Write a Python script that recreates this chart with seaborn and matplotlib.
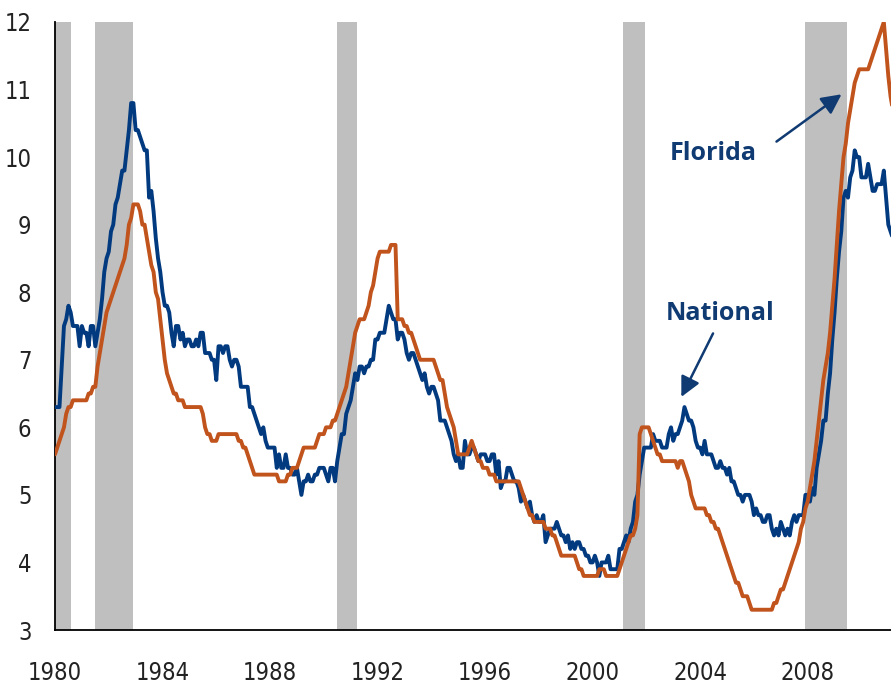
import numpy as np
import pandas as pd
import matplotlib
matplotlib.use("Agg")
import matplotlib.pyplot as plt
import seaborn as sns

# monthly unemployment rate (%), Jan 1980 - Mar 2011
national_by_year = {
    1980: [6.3, 6.3, 6.3, 6.9, 7.5, 7.6, 7.8, 7.7, 7.5, 7.5, 7.5, 7.2],
    1981: [7.5, 7.4, 7.4, 7.2, 7.5, 7.5, 7.2, 7.4, 7.6, 7.9, 8.3, 8.5],
    1982: [8.6, 8.9, 9.0, 9.3, 9.4, 9.6, 9.8, 9.8, 10.1, 10.4, 10.8, 10.8],
    1983: [10.4, 10.4, 10.3, 10.2, 10.1, 10.1, 9.4, 9.5, 9.2, 8.8, 8.5, 8.3],
    1984: [8.0, 7.8, 7.8, 7.7, 7.4, 7.2, 7.5, 7.5, 7.3, 7.4, 7.2, 7.3],
    1985: [7.3, 7.2, 7.2, 7.3, 7.2, 7.4, 7.4, 7.1, 7.1, 7.1, 7.0, 7.0],
    1986: [6.7, 7.2, 7.2, 7.1, 7.2, 7.2, 7.0, 6.9, 7.0, 7.0, 6.9, 6.6],
    1987: [6.6, 6.6, 6.6, 6.3, 6.3, 6.2, 6.1, 6.0, 5.9, 6.0, 5.8, 5.7],
    1988: [5.7, 5.7, 5.7, 5.4, 5.6, 5.4, 5.4, 5.6, 5.4, 5.4, 5.3, 5.3],
    1989: [5.4, 5.2, 5.0, 5.2, 5.2, 5.3, 5.2, 5.2, 5.3, 5.3, 5.4, 5.4],
    1990: [5.4, 5.3, 5.2, 5.4, 5.4, 5.2, 5.5, 5.7, 5.9, 5.9, 6.2, 6.3],
    1991: [6.4, 6.6, 6.8, 6.7, 6.9, 6.9, 6.8, 6.9, 6.9, 7.0, 7.0, 7.3],
    1992: [7.3, 7.4, 7.4, 7.4, 7.6, 7.8, 7.7, 7.6, 7.6, 7.3, 7.4, 7.4],
    1993: [7.3, 7.1, 7.0, 7.1, 7.1, 7.0, 6.9, 6.8, 6.7, 6.8, 6.6, 6.5],
    1994: [6.6, 6.6, 6.5, 6.4, 6.1, 6.1, 6.1, 6.0, 5.9, 5.8, 5.6, 5.5],
    1995: [5.6, 5.4, 5.4, 5.8, 5.6, 5.6, 5.7, 5.7, 5.6, 5.5, 5.6, 5.6],
    1996: [5.6, 5.5, 5.5, 5.6, 5.6, 5.3, 5.5, 5.1, 5.2, 5.2, 5.4, 5.4],
    1997: [5.3, 5.2, 5.2, 5.1, 4.9, 5.0, 4.9, 4.8, 4.9, 4.7, 4.6, 4.7],
    1998: [4.6, 4.6, 4.7, 4.3, 4.4, 4.5, 4.5, 4.5, 4.6, 4.5, 4.4, 4.4],
    1999: [4.3, 4.4, 4.2, 4.3, 4.2, 4.3, 4.3, 4.2, 4.2, 4.1, 4.1, 4.0],
    2000: [4.0, 4.1, 4.0, 3.8, 4.0, 4.0, 4.0, 4.1, 3.9, 3.9, 3.9, 3.9],
    2001: [4.2, 4.2, 4.3, 4.4, 4.3, 4.5, 4.6, 4.9, 5.0, 5.3, 5.5, 5.7],
    2002: [5.7, 5.7, 5.7, 5.9, 5.8, 5.8, 5.8, 5.7, 5.7, 5.7, 5.9, 6.0],
    2003: [5.8, 5.9, 5.9, 6.0, 6.1, 6.3, 6.2, 6.1, 6.1, 6.0, 5.8, 5.7],
    2004: [5.7, 5.6, 5.8, 5.6, 5.6, 5.6, 5.5, 5.4, 5.4, 5.5, 5.4, 5.4],
    2005: [5.3, 5.4, 5.2, 5.2, 5.1, 5.0, 5.0, 4.9, 5.0, 5.0, 5.0, 4.9],
    2006: [4.7, 4.8, 4.7, 4.7, 4.6, 4.6, 4.7, 4.7, 4.5, 4.4, 4.5, 4.4],
    2007: [4.6, 4.5, 4.4, 4.5, 4.4, 4.6, 4.7, 4.6, 4.7, 4.7, 4.7, 5.0],
    2008: [5.0, 4.9, 5.1, 5.0, 5.4, 5.6, 5.8, 6.1, 6.1, 6.5, 6.8, 7.3],
    2009: [7.7, 8.2, 8.6, 8.9, 9.4, 9.5, 9.4, 9.7, 9.8, 10.1, 10.0, 10.0],
    2010: [9.7, 9.7, 9.7, 9.9, 9.7, 9.5, 9.5, 9.6, 9.6, 9.6, 9.8, 9.4],
    2011: [9.0, 8.9, 8.8],
}

florida_by_year = {
    1980: [5.6, 5.7, 5.8, 5.9, 6.0, 6.2, 6.3, 6.3, 6.4, 6.4, 6.4, 6.4],
    1981: [6.4, 6.4, 6.4, 6.5, 6.5, 6.6, 6.6, 6.9, 7.1, 7.3, 7.5, 7.7],
    1982: [7.8, 7.9, 8.0, 8.1, 8.2, 8.3, 8.4, 8.5, 8.7, 9.0, 9.1, 9.3],
    1983: [9.3, 9.3, 9.2, 9.0, 9.0, 8.8, 8.6, 8.4, 8.3, 8.0, 7.9, 7.6],
    1984: [7.3, 7.0, 6.8, 6.7, 6.6, 6.5, 6.5, 6.4, 6.4, 6.4, 6.3, 6.3],
    1985: [6.3, 6.3, 6.3, 6.3, 6.3, 6.3, 6.2, 6.0, 5.9, 5.9, 5.8, 5.8],
    1986: [5.8, 5.9, 5.9, 5.9, 5.9, 5.9, 5.9, 5.9, 5.9, 5.9, 5.8, 5.8],
    1987: [5.7, 5.7, 5.6, 5.5, 5.4, 5.3, 5.3, 5.3, 5.3, 5.3, 5.3, 5.3],
    1988: [5.3, 5.3, 5.3, 5.3, 5.2, 5.2, 5.2, 5.2, 5.3, 5.3, 5.4, 5.4],
    1989: [5.4, 5.5, 5.6, 5.7, 5.7, 5.7, 5.7, 5.7, 5.7, 5.8, 5.9, 5.9],
    1990: [5.9, 6.0, 6.0, 6.0, 6.1, 6.1, 6.2, 6.3, 6.4, 6.5, 6.6, 6.8],
    1991: [7.0, 7.2, 7.4, 7.5, 7.6, 7.6, 7.6, 7.7, 7.8, 8.0, 8.1, 8.3],
    1992: [8.5, 8.6, 8.6, 8.6, 8.6, 8.6, 8.7, 8.7, 8.7, 7.6, 7.6, 7.6],
    1993: [7.5, 7.5, 7.4, 7.4, 7.3, 7.2, 7.1, 7.0, 7.0, 7.0, 7.0, 7.0],
    1994: [7.0, 7.0, 6.9, 6.8, 6.7, 6.7, 6.5, 6.3, 6.2, 6.1, 6.0, 5.8],
    1995: [5.6, 5.6, 5.6, 5.6, 5.6, 5.7, 5.8, 5.7, 5.6, 5.5, 5.5, 5.4],
    1996: [5.4, 5.4, 5.3, 5.3, 5.3, 5.2, 5.2, 5.2, 5.2, 5.2, 5.2, 5.2],
    1997: [5.2, 5.2, 5.2, 5.2, 5.1, 5.0, 4.9, 4.8, 4.7, 4.7, 4.6, 4.6],
    1998: [4.6, 4.6, 4.6, 4.5, 4.5, 4.5, 4.4, 4.4, 4.3, 4.2, 4.1, 4.1],
    1999: [4.1, 4.1, 4.1, 4.1, 4.1, 4.0, 3.9, 3.9, 3.8, 3.8, 3.8, 3.8],
    2000: [3.8, 3.8, 3.8, 3.9, 3.9, 3.9, 3.8, 3.8, 3.8, 3.8, 3.8, 3.8],
    2001: [3.9, 4.0, 4.1, 4.2, 4.3, 4.4, 4.4, 4.5, 4.7, 5.9, 6.0, 6.0],
    2002: [6.0, 6.0, 5.9, 5.8, 5.7, 5.6, 5.6, 5.5, 5.5, 5.5, 5.5, 5.5],
    2003: [5.5, 5.5, 5.4, 5.5, 5.5, 5.4, 5.3, 5.2, 5.0, 4.9, 4.8, 4.8],
    2004: [4.8, 4.8, 4.8, 4.7, 4.7, 4.6, 4.6, 4.5, 4.5, 4.4, 4.3, 4.2],
    2005: [4.1, 4.0, 3.9, 3.8, 3.7, 3.7, 3.6, 3.5, 3.5, 3.5, 3.4, 3.3],
    2006: [3.3, 3.3, 3.3, 3.3, 3.3, 3.3, 3.3, 3.3, 3.3, 3.4, 3.4, 3.5],
    2007: [3.6, 3.6, 3.7, 3.8, 3.9, 4.0, 4.1, 4.2, 4.3, 4.5, 4.6, 4.8],
    2008: [4.9, 5.1, 5.3, 5.5, 5.8, 6.1, 6.4, 6.7, 6.9, 7.1, 7.4, 7.8],
    2009: [8.2, 8.7, 9.2, 9.6, 10.0, 10.2, 10.5, 10.7, 10.9, 11.1, 11.2, 11.3],
    2010: [11.3, 11.3, 11.3, 11.3, 11.4, 11.5, 11.6, 11.7, 11.8, 11.9, 12.0, 11.6],
    2011: [11.2, 10.9, 10.7],
}

# recessions (decimal years)
rec_start = [1980.0, 1981.5, 1990.5, 2001.12, 2007.9]
rec_end = [1980.6, 1982.92, 1991.25, 2001.94, 2009.45]

national = np.concatenate([national_by_year[y] for y in sorted(national_by_year)])
florida = np.concatenate([florida_by_year[y] for y in sorted(florida_by_year)])
t = 1980 + np.arange(len(national)) / 12.0

df = pd.concat([
    pd.DataFrame({"t": t, "rate": national, "series": "National"}),
    pd.DataFrame({"t": t, "rate": florida, "series": "Florida"}),
])

blue = "#023a80"
orange = "#c1531c"
txt_col = "#0f3a72"

sns.set_style("white")
plt.rcParams["font.family"] = ["Liberation Sans Narrow", "DejaVu Sans"]
plt.rcParams["font.stretch"] = "condensed"

fig = plt.figure(figsize=(8.91, 6.84), dpi=100)
ax = fig.add_axes([55 / 891, 54 / 684, 836 / 891, 608 / 684])

for a, b in zip(rec_start, rec_end):
    ax.axvspan(a, b, color="#bfbfbf", lw=0, zorder=0)

sns.lineplot(data=df, x="t", y="rate", hue="series",
             hue_order=["National", "Florida"],
             palette={"National": blue, "Florida": orange},
             linewidth=2.8, legend=False, ax=ax, zorder=3)

ax.set_xlim(1980, 2011.1)
ax.set_ylim(3, 12)
ax.set_xticks(range(1980, 2010, 4))
ax.set_yticks(range(3, 13))
ax.set_xlabel("")
ax.set_ylabel("")

for s in ["top", "right"]:
    ax.spines[s].set_visible(False)
for s in ["left", "bottom"]:
    ax.spines[s].set_color("black")
    ax.spines[s].set_linewidth(1.3)

ax.tick_params(axis="both", direction="out", length=8, width=1.2,
               color="#555555", labelsize=17, labelcolor="#222222")
ax.tick_params(axis="y", pad=9)
ax.tick_params(axis="x", pad=14)

afont = dict(family=["Open Sans", "DejaVu Sans"], weight="bold", size=18,
             color=txt_col, stretch="normal")
ax.text(2004.5, 10.05, "Florida", ha="center", va="center", **afont)
ax.text(2004.75, 7.68, "National", ha="center", va="center", **afont)

arrow = dict(arrowstyle="-|>,head_length=0.6,head_width=0.3", color=txt_col,
             lw=1.8, mutation_scale=20, shrinkA=0, shrinkB=0)
ax.annotate("", xy=(2009.26, 10.93), xytext=(2006.84, 10.23), arrowprops=arrow)
ax.annotate("", xy=(2003.30, 6.45), xytext=(2004.48, 7.39), arrowprops=arrow)

fig.savefig("out.png", dpi=100)
